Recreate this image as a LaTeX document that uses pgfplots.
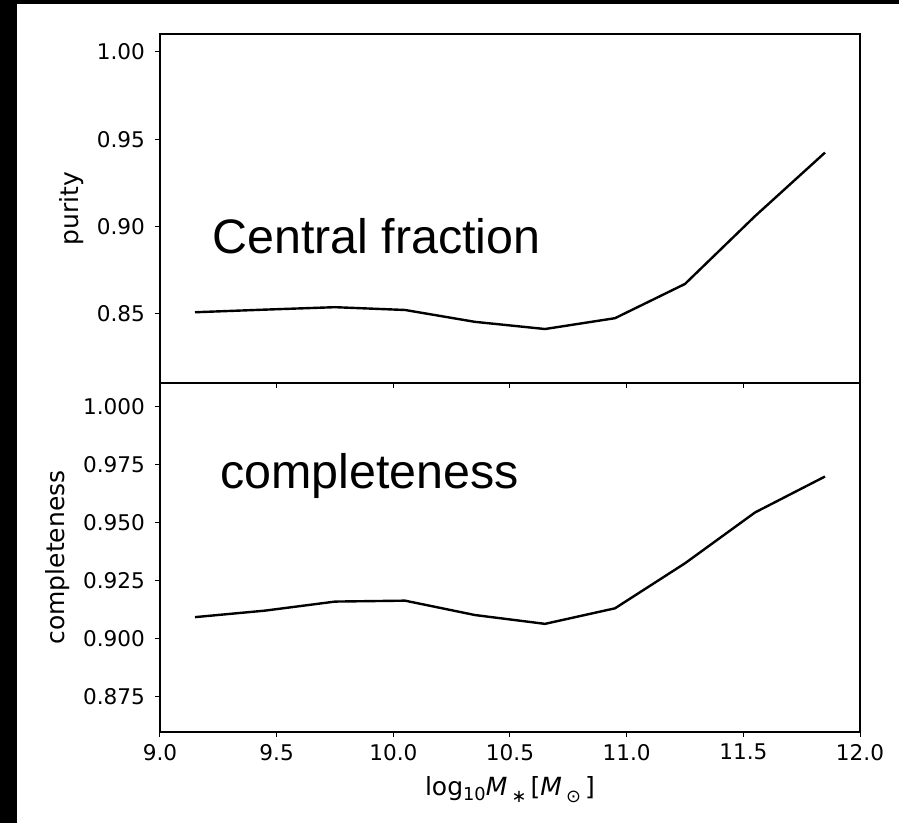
\documentclass[border=0pt]{standalone}
\usepackage{fontspec}
\setmainfont{DejaVu Sans}
\newfontfamily\arialfont{Liberation Sans}
\usepackage{pgfplots}
\pgfplotsset{compat=1.18}
\pgfplotstableread{
x y
9.15 0.8510
9.45 0.8525
9.75 0.8539
10.05 0.8523
10.35 0.8455
10.65 0.8414
10.95 0.8476
11.25 0.8672
11.55 0.9060
11.85 0.9424
}\purity
\pgfplotstableread{
x y
9.15 0.9094
9.45 0.9122
9.75 0.9161
10.05 0.9165
10.35 0.9103
10.65 0.9065
10.95 0.9132
11.25 0.9326
11.55 0.9545
11.85 0.9700
}\completeness
\pgfplotsset{
  mystyle/.style={
    scale only axis, width=350pt, height=174.5pt,
    xmin=9, xmax=12,
    xtick={9,9.5,10,10.5,11,11.5,12},
    axis line style={line width=0.6pt, black},
    tick style={black, line width=0.5pt},
    tick align=outside,
    major tick length=2.5pt,
    xtick pos=bottom, ytick pos=left,
    /pgf/number format/assume math mode=true,
    tick label style={font=\fontsize{10.8}{12}\selectfont},
    yticklabel style={xshift=-1.5pt},
    label style={font=\fontsize{12.5}{14}\selectfont},
    ylabel style={at={(ticklabel cs:0.5)}, anchor=near ticklabel, inner sep=3pt},
  }
}
\begin{document}
\begin{tikzpicture}
\fill[black] (-80pt,-45.5pt) rectangle (369.5pt,366pt);
\fill[white] (-71.5pt,-45.5pt) rectangle (369.5pt,364pt);
\useasboundingbox (-80pt,-45.5pt) rectangle (369.5pt,366pt);
\begin{axis}[mystyle, name=bot,
  ymin=0.8599, ymax=1.0103,
  ytick={0.875,0.900,0.925,0.950,0.975,1.000},
  yticklabel style={/pgf/number format/.cd, fixed, fixed zerofill, precision=3},
  xticklabel style={/pgf/number format/.cd, fixed, fixed zerofill, precision=1},
  ylabel={completeness},
  xlabel={log\raisebox{-0.35ex}{\fontsize{8.9}{10}\selectfont 10}\textit{M}\,\raisebox{-0.45ex}{\fontsize{8.9}{10}\selectfont ∗}\,[\textit{M}\,\raisebox{-0.45ex}{\fontsize{8.9}{10}\selectfont ⊙}\,]},
  xlabel style={at={(axis description cs:0.5,-0.165)}, anchor=center}]
\addplot[black, line width=1.2pt, no marks] table[x=x,y=y] {\completeness};
\node[anchor=base west, inner sep=0pt, font=\arialfont\fontsize{24.2}{28}\selectfont] at (axis cs:9.257,0.9647) {completeness};
\end{axis}
\begin{axis}[mystyle, at={(bot.north west)}, anchor=south west,
  ymin=0.8105, ymax=1.0103,
  ytick={0.85,0.90,0.95,1.00},
  yticklabel style={/pgf/number format/.cd, fixed, fixed zerofill, precision=2},
  xticklabels={},
  ylabel={purity}]
\addplot[black, line width=1.2pt, no marks] table[x=x,y=y] {\purity};
\node[anchor=base west, inner sep=0pt, font=\arialfont\fontsize{24.2}{28}\selectfont] at (axis cs:9.223,0.8844) {Central fraction};
\end{axis}
\end{tikzpicture}
\end{document}
